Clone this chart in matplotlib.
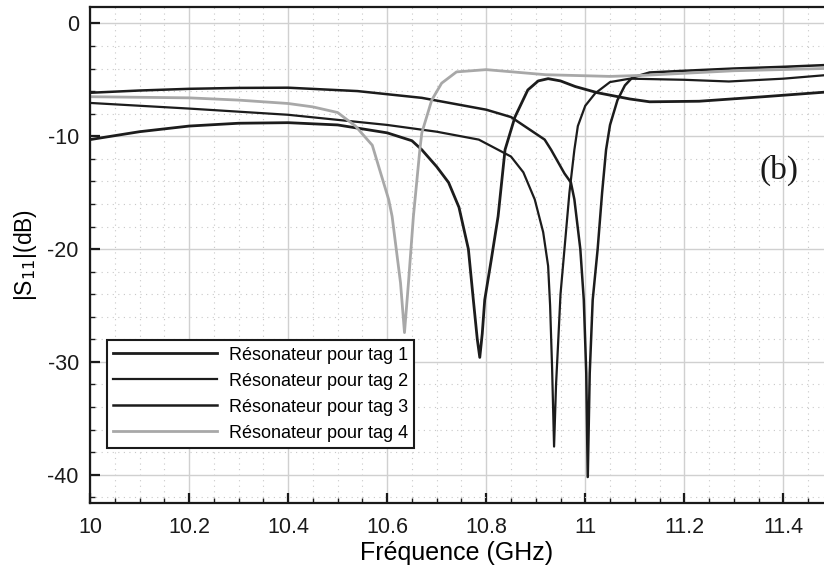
import matplotlib
matplotlib.use("Agg")
import matplotlib.pyplot as plt
from matplotlib.ticker import MultipleLocator, FormatStrFormatter
import numpy as np

# ── Data (GHz, dB) ───────────────────────────────────────────────────────────
f_tag1 = [10.0, 10.1, 10.2, 10.3, 10.4, 10.5, 10.6, 10.65, 10.67, 10.70, 10.724,
          10.745, 10.764, 10.774, 10.782, 10.787, 10.792, 10.797, 10.81, 10.824,
          10.838, 10.858, 10.884, 10.905, 10.925, 10.95, 10.98, 11.025, 11.09,
          11.13, 11.23, 11.36, 11.482]
s_tag1 = [-10.3, -9.6, -9.1, -8.85, -8.8, -9.0, -9.7, -10.4, -11.2, -12.7, -14.1,
          -16.3, -20.0, -24.5, -28.0, -29.6, -27.5, -24.5, -21.0, -17.1,
          -11.2, -8.3, -5.9, -5.1, -4.9, -5.1, -5.6, -6.15, -6.7,
          -6.95, -6.9, -6.5, -6.1]

f_tag2 = [10.0, 10.2, 10.4, 10.6, 10.7, 10.785, 10.85, 10.875, 10.898, 10.915,
          10.925, 10.929, 10.933, 10.937, 10.941, 10.945, 10.95, 10.958, 10.968,
          10.978, 10.985, 11.0, 11.02, 11.05, 11.09, 11.2, 11.29, 11.4, 11.482]
s_tag2 = [-7.05, -7.55, -8.1, -9.0, -9.6, -10.3, -11.8, -13.2, -15.6, -18.5,
          -21.5, -25.0, -30.5, -37.5, -32.0, -28.5, -24.0, -20.0, -15.0,
          -11.2, -9.1, -7.3, -6.2, -5.2, -4.9, -5.0, -5.15, -4.9, -4.6]

f_tag3 = [10.0, 10.1, 10.2, 10.3, 10.4, 10.54, 10.67, 10.8, 10.85, 10.918, 10.931,
          10.958, 10.971, 10.978, 10.99, 10.997, 11.002, 11.005, 11.009, 11.015,
          11.025, 11.034, 11.042, 11.05, 11.065, 11.08, 11.095, 11.13, 11.2,
          11.3, 11.4, 11.482]
s_tag3 = [-6.15, -5.95, -5.8, -5.72, -5.7, -6.0, -6.6, -7.65, -8.3, -10.3, -11.2,
          -13.3, -14.1, -15.6, -20.0, -24.5, -31.0, -40.2, -31.0, -24.5,
          -20.0, -15.0, -11.2, -9.0, -6.8, -5.5, -4.8, -4.35, -4.2,
          -4.0, -3.85, -3.7]

f_tag4 = [10.0, 10.1, 10.2, 10.3, 10.4, 10.45, 10.5, 10.536, 10.57, 10.583, 10.603,
          10.61, 10.627, 10.635, 10.643, 10.653, 10.666, 10.67, 10.69, 10.71,
          10.74, 10.8, 10.92, 11.05, 11.12, 11.3, 11.482]
s_tag4 = [-6.5, -6.55, -6.6, -6.8, -7.1, -7.4, -7.9, -9.1, -10.8, -12.7, -15.6,
          -17.1, -23.0, -27.4, -23.0, -17.1, -11.2, -9.7, -6.8, -5.3,
          -4.3, -4.1, -4.55, -4.7, -4.6, -4.2, -4.0]

labels = ["Résonateur pour tag 1", "Résonateur pour tag 2",
          "Résonateur pour tag 3", "Résonateur pour tag 4"]

plt.rcParams["font.family"] = "Liberation Sans"
plt.rcParams["axes.unicode_minus"] = False

fig = plt.figure(figsize=(8.24, 5.74), dpi=100)
ax = fig.add_axes([0.1092, 0.1237, 0.8908, 0.8641])

ax.plot(f_tag1, s_tag1, color="#1c1c1c", lw=2.0, label=labels[0])
ax.plot(f_tag2, s_tag2, color="#1c1c1c", lw=1.6, label=labels[1])
ax.plot(f_tag3, s_tag3, color="#1c1c1c", lw=1.8, label=labels[2])
ax.plot(f_tag4, s_tag4, color="#a8a8a8", lw=2.0, label=labels[3])

ax.set_xlim(10, 11.482)
ax.set_ylim(-42.5, 1.45)

ax.xaxis.set_major_locator(MultipleLocator(0.2))
ax.xaxis.set_minor_locator(MultipleLocator(0.05))
ax.xaxis.set_major_formatter(FormatStrFormatter("%g"))
ax.yaxis.set_major_locator(MultipleLocator(10))
ax.yaxis.set_minor_locator(MultipleLocator(2))

ax.grid(True, which="major", color="#d0d0d0", lw=1.0, ls="-")
ax.grid(True, which="minor", color="#c8c8c8", lw=0.8, ls=(0, (1, 4)))
ax.set_axisbelow(True)

ax.tick_params(which="both", direction="in", top=False, right=False,
               labelsize=15.5, colors="#1a1a1a")
ax.tick_params(which="major", length=7, width=1.6)
ax.tick_params(axis="x", which="major", pad=10)
ax.tick_params(axis="y", which="major", pad=8)
ax.tick_params(which="minor", length=3.5, width=1.0)

for side in ["left", "bottom", "top"]:
    ax.spines[side].set_linewidth(1.6)
    ax.spines[side].set_color("#1a1a1a")
ax.spines["right"].set_visible(False)

ax.set_xlabel("Fréquence (GHz)", fontsize=18, labelpad=2)
ax.set_ylabel("|S$_{11}$|(dB)", fontsize=16.5, labelpad=6)

ax.text(11.391, -13.0, "(b)", fontsize=24, family="Liberation Serif",
        ha="center", va="center", color="#1a1a1a")

leg = ax.legend(loc="lower left", bbox_to_anchor=(0.023, 0.111),
                fontsize=13, frameon=True, fancybox=False, framealpha=1,
                edgecolor="#1a1a1a", handlelength=5.75, handletextpad=0.65,
                borderpad=0.35, labelspacing=0.5, borderaxespad=0)
leg.get_frame().set_linewidth(1.5)

fig.savefig("out.png", dpi=100)
